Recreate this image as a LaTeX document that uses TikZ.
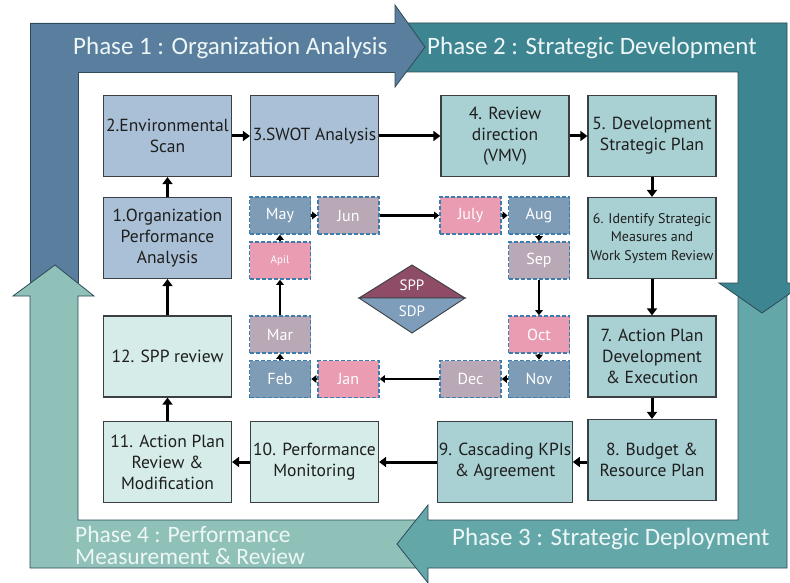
\documentclass[tikz,border=0pt]{standalone}
\usepackage{fontspec}
\setmainfont{PT Sans}
\newfontfamily\phasefont{Carlito}
\usetikzlibrary{arrows.meta}
\definecolor{pone}{HTML}{5A7F9E}
\definecolor{ptwo}{HTML}{3E8592}
\definecolor{pthree}{HTML}{64A7A9}
\definecolor{pfour}{HTML}{8FC1B8}
\definecolor{pline}{HTML}{2E4A57}
\definecolor{ptext}{HTML}{EEF7F7}
\definecolor{bbox}{HTML}{AAC0D6}
\definecolor{tbox}{HTML}{A9D0D2}
\definecolor{mbox}{HTML}{D5ECE9}
\definecolor{boxline}{HTML}{3A3F44}
\definecolor{txt}{HTML}{1E1E1E}
\definecolor{msteel}{HTML}{7F9CB7}
\definecolor{mmauve}{HTML}{B9A8B6}
\definecolor{mpink}{HTML}{E99CB2}
\definecolor{mdash}{HTML}{3C7DAE}
\definecolor{dtop}{HTML}{8E4C66}
\definecolor{dbot}{HTML}{7E9DBA}
\tikzset{
  band/.style={line width=0.8pt, draw=pline, line join=miter},
  phasetext/.style={text=ptext, inner sep=0pt, font=\phasefont\fontsize{25}{21}\selectfont},
  box/.style={draw=boxline, line width=1.2pt, minimum width=128pt, minimum height=81pt,
    inner sep=1pt, align=center, text=txt, font=\fontsize{17.5}{21}\selectfont},
  bluebox/.style={box, fill=bbox},
  tealbox/.style={box, fill=tbox},
  mintbox/.style={box, fill=mbox},
  month/.style={draw=mdash, dash pattern=on 4pt off 2pt, line width=1.6pt,
    minimum width=61pt, minimum height=37pt, inner sep=0pt, text=white,
    font=\fontsize{16}{18}\selectfont},
  flow/.style={line width=3pt, -{Triangle[length=7pt,width=10pt]}},
  mflow/.style={line width=2.5pt, -{Triangle[length=5pt,width=7.5pt]}},
}
\begin{document}
\begin{tikzpicture}[x=1pt,y=-1pt]
\useasboundingbox (0,0) rectangle (790,583);
\clip (0,0) rectangle (790,583);
\fill[white] (0,0) rectangle (790,583);

% phase bands
\filldraw[band, fill=pone] (30,290) -- (30,23) -- (400,23) -- (400,72) -- (78,72) -- (78,290) -- cycle;
\filldraw[band, fill=pfour] (422,520) -- (78,520) -- (78,296) -- (94,296) -- (55,265) -- (13,296) -- (30,296) -- (30,568) -- (422,568) -- cycle;
\filldraw[band, fill=pthree] (738,290) -- (787,290) -- (787,568) -- (428,568) -- (428,583) -- (397,544) -- (428,505) -- (428,520) -- (738,520) -- cycle;
\filldraw[band, fill=ptwo] (400,23) -- (787,23) -- (787,283) -- (805,283) -- (762,313) -- (719,283) -- (738,283) -- (738,72) -- (400,72) -- cycle;
\fill[pone] (395,5) -- (425,47) -- (395,87) -- cycle;
\draw[band] (395,23) -- (395,5) -- (425,47) -- (395,87) -- (395,72);

% phase texts
\node[phasetext, anchor=base west] (ph1) at (73,55) {Phase 1 : Organization Analysis};
\node[phasetext, anchor=base west] (ph2) at (427,55) {Phase 2 : Strategic Development};
\node[phasetext, anchor=base west] (ph3) at (452,545) {Phase 3 : Strategic Deployment};
\node[phasetext, anchor=base west, align=left, font=\phasefont\fontsize{23.5}{22}\selectfont] (ph4) at (75,564.5) {Phase 4 : Performance\\Measurement \& Review};

% process boxes
\node[bluebox] (b1) at (167.5,238) {1.Organization\\Performance\\Analysis};
\node[bluebox] (b2) at (167.5,136) {2.Environmental\\Scan};
\node[bluebox] (b3) at (314.5,136) {3.SWOT Analysis};
\node[tealbox] (b4) at (505,136) {4. Review\\direction\\(VMV)};
\node[tealbox] (b5) at (652,136) {5. Development\\Strategic Plan};
\node[tealbox, font=\fontsize{14}{18.5}\selectfont] (b6) at (652,238) {6. Identify Strategic\\Measures and\\Work System Review};
\node[tealbox] (b7) at (652,356.5) {7. Action Plan\\Development\\\& Execution};
\node[tealbox] (b8) at (652,460) {8. Budget \&\\Resource Plan};
\node[tealbox] (b9) at (505,462) {9. Cascading KPIs\\\& Agreement};
\node[mintbox] (b10) at (314.5,462) {10. Performance\\Monitoring};
\node[mintbox] (b11) at (167.5,462) {11. Action Plan\\Review \&\\Modification};
\node[mintbox] (b12) at (167.5,356.5) {12. SPP review};

\draw[flow] (b1) -- (b2);
\draw[flow] (b2) -- (b3);
\draw[flow] (b3) -- (b4);
\draw[flow] (b4) -- (b5);
\draw[flow] (b5) -- (b6);
\draw[flow] (b6) -- (b7);
\draw[flow] (b7) -- (b8);
\draw[flow] (b8.west |- b9.east) -- (b9.east);
\draw[flow] (b9) -- (b10);
\draw[flow] (b10) -- (b11);
\draw[flow] (b11) -- (b12);
\draw[flow] (b12) -- (b1);

% months
\node[month, fill=msteel] (may) at (280,215.5) {May};
\node[month, fill=mmauve] (jun) at (348.5,215.5) {Jun};
\node[month, fill=mpink] (jul) at (470.5,215.5) {July};
\node[month, fill=msteel] (aug) at (539,215.5) {Aug};
\node[month, fill=mmauve] (sep) at (539,260.5) {Sep};
\node[month, fill=mpink] (oct) at (539,334.5) {Oct};
\node[month, fill=msteel] (nov) at (539,379) {Nov};
\node[month, fill=mmauve] (dec) at (470.5,379) {Dec};
\node[month, fill=mpink] (jan) at (348.5,379) {Jan};
\node[month, fill=msteel] (feb) at (280,379) {Feb};
\node[month, fill=mmauve] (mar) at (280,334.5) {Mar};
\node[month, fill=mpink, font=\fontsize{11}{12}\selectfont] (apr) at (280,260.5) {Apil};

\draw[mflow] (may) -- (jun);
\draw[mflow] (jun) -- (jul);
\draw[mflow] (jul) -- (aug);
\draw[mflow] (aug) -- (sep);
\draw[mflow] (sep) -- (oct);
\draw[mflow] (oct) -- (nov);
\draw[mflow] (nov) -- (dec);
\draw[mflow] (dec) -- (jan);
\draw[mflow] (jan) -- (feb);
\draw[mflow] (feb) -- (mar);
\draw[mflow] (mar) -- (apr);
\draw[mflow] (apr) -- (may);

% diamond
\filldraw[fill=dtop, draw=boxline, line width=0.9pt] (359,298) -- (412,265) -- (465,298) -- cycle;
\filldraw[fill=dbot, draw=boxline, line width=0.9pt] (359,298) -- (412,333) -- (465,298) -- cycle;
\node[text=white, font=\fontsize{15}{16}\selectfont] (spp) at (412,285.5) {SPP};
\node[text=white, font=\fontsize{15}{16}\selectfont] (sdp) at (412,311) {SDP};
\end{tikzpicture}
\end{document}
